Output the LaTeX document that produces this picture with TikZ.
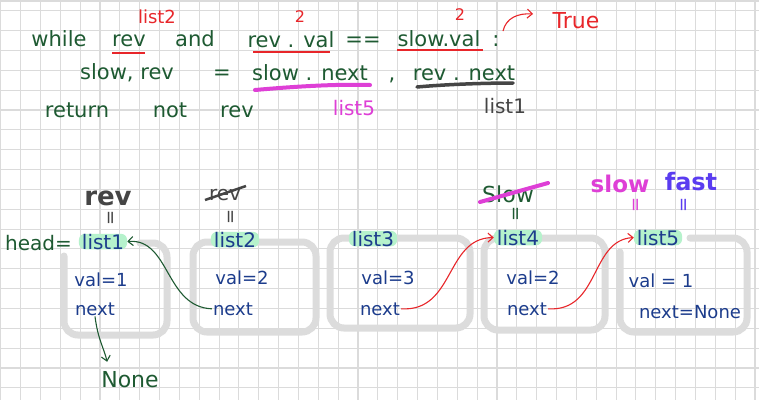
\documentclass[tikz,border=0pt]{standalone}
\usepackage{fontspec}
\setmainfont{DejaVu Sans}
\usepackage{tikz}
\usetikzlibrary{arrows.meta}
\definecolor{NoteGreen}{HTML}{1E5A32}
\definecolor{NoteBlue}{HTML}{1C3C8C}
\definecolor{NoteRed}{HTML}{E8262A}
\definecolor{NoteMagenta}{HTML}{DE3FD6}
\definecolor{NotePurple}{HTML}{5A3CF0}
\definecolor{NoteGray}{HTML}{454545}
\definecolor{NoteMint}{HTML}{B6F2CC}
\definecolor{NoteBox}{HTML}{DCDCDC}
\definecolor{NoteGrid}{HTML}{DBDBDB}
\newcommand{\hwfont}[1]{\fontsize{#1}{#1}\selectfont}

\begin{document}
\begin{tikzpicture}[x=1pt,y=-1pt,
  gridline/.style={draw=NoteGrid,line width=1.1pt},
  code/.style={text=NoteGreen,font=\hwfont{21},anchor=base,inner sep=1pt},
  note/.style={font=\hwfont{20},anchor=base,inner sep=1pt},
  field/.style={text=NoteBlue,font=\hwfont{18},anchor=base,inner sep=1pt},
  listlbl/.style={field,font=\hwfont{20},fill=NoteMint,rounded corners=6pt,inner xsep=3pt,inner ysep=0pt},
  eqv/.style={rotate=90,font=\hwfont{18},inner sep=0pt},
  nodebox/.style={draw=NoteBox,line width=7pt,rounded corners=14pt,line cap=round},
  hand/.style={-{Straight Barb[length=5pt,width=9pt]},line width=1.1pt}]
  \useasboundingbox (0,0) rectangle (759,400);
  \fill[white] (0,0) rectangle (759,400);
  \foreach \i in {0,...,38}
    \draw[gridline] ({0.7+19.85*\i},0) -- ({0.7+19.85*\i},400);
  \foreach \j in {0,...,19}
    \draw[gridline] (0,{10.7+19.85*\j}) -- (759,{10.7+19.85*\j});
  \draw[gridline,line width=2pt] (0,1) -- (759,1);

  \node[code] (while) at (59,46) {while};
  \node[code] (rev) at (129,46) {rev};
  \node[code] (and) at (195,46) {and};
  \node[code] (revval) at (291,47) {rev . val};
  \node[code] (eqeq) at (363,46) {==};
  \node[code] (slowval) at (439,46) {slow.val};
  \node[code] (colon) at (496,46) {:};
  \node[note,text=NoteRed,font=\hwfont{18}] (list2a) at (157,23) {list2};
  \node[note,text=NoteRed,font=\hwfont{16}] (two1) at (300,22) {2};
  \node[note,text=NoteRed,font=\hwfont{16}] (two2) at (460,20) {2};
  \node[note,text=NoteRed,font=\hwfont{22}] (true) at (576,28) {True};
  \draw[NoteRed,line width=1.6pt] (112,53) -- (145,53);
  \draw[NoteRed,line width=1.6pt] (253,52) -- (330,52);
  \draw[NoteRed,line width=1.6pt] (397,50) -- (483,50);
  \coordinate (curlA) at (503,31);
  \coordinate (curlB) at (533,14);
  \draw[hand,NoteRed] (curlA) .. controls (506,18) and (518,13) .. (curlB);

  \node[code] (slowrev) at (127,79) {slow, rev};
  \node[code] (assign) at (222,79) {=};
  \node[code] (slownext) at (310,80) {slow . next};
  \node[code] (comma) at (392,80) {,};
  \node[code] (revnext) at (464,80) {rev . next};
  \draw[NoteMagenta,line width=4pt,line cap=round] (255,90) .. controls (300,86) and (340,84) .. (370,85);
  \draw[NoteGray,line width=3.5pt,line cap=round] (417,87) .. controls (450,84) and (490,83) .. (513,83);

  \node[code] (return) at (77,117) {return};
  \node[code] (not) at (170,117) {not};
  \node[code] (rev3) at (237,117) {rev};
  \node[note,text=NoteMagenta] (list5a) at (354,115) {list5};
  \node[note,text=NoteGray] (list1a) at (505,113) {list1};

  \draw[nodebox] (140,243) -| (167,335) -| (64,256);
  \draw[nodebox] (193,242) rectangle (316,332);
  \draw[nodebox] (330,238) rectangle (470,328);
  \draw[nodebox] (484,238) rectangle (605,330);
  \draw[nodebox] (690,238) -| (747,332) -| (620,252);

  \node[code,font=\hwfont{20},anchor=base east] (head) at (73,250) {head=};
  \node[listlbl] (list1) at (103,249) {list1};
  \node[code,text=NoteGray,font=\hwfont{26}\bfseries] (revtop) at (108,205) {rev};
  \node[eqv,text=NoteGray] (eq1) at (112,218) {=};
  \node[field] (val1) at (101,286) {val=1};
  \node[field] (next1) at (95,315) {next};
  \node[code,font=\hwfont{22}] (none) at (130,387) {None};

  \node[code,text=NoteGray,font=\hwfont{20}] (revold) at (225,200) {rev};
  \draw[NoteGray,line width=2.5pt] (205,200) -- (246,186);
  \node[eqv,text=NoteGray] (eq2) at (232,217) {=};
  \node[listlbl] (list2) at (235,247) {list2};
  \node[field] (val2) at (242,284) {val=2};
  \node[field] (next2) at (233,315) {next};

  \node[listlbl] (list3) at (373,246) {list3};
  \node[field] (val3) at (388,284) {val=3};
  \node[field] (next3) at (380,315) {next};

  \node[code,font=\hwfont{22}] (slowold) at (508,202) {Slow};
  \draw[NoteMagenta,line width=4pt,line cap=round] (480,202) -- (548,183);
  \node[eqv,text=NoteGreen] (eq4) at (517,214) {=};
  \node[listlbl] (list4) at (518,245) {list4};
  \node[field] (val4) at (533,284) {val=2};
  \node[field] (next4) at (527,315) {next};

  \node[note,text=NoteMagenta,font=\hwfont{23}\bfseries] (slow) at (620,192) {slow};
  \node[note,text=NotePurple,font=\hwfont{24}\bfseries] (fast) at (691,190) {fast};
  \node[eqv,text=NoteMagenta] (eq5a) at (637,205) {=};
  \node[eqv,text=NotePurple] (eq5b) at (685,205) {=};
  \node[listlbl] (list5) at (658,245) {list5};
  \node[field] (val5) at (661,287) {val = 1};
  \node[field] (next5) at (690,318) {next=None};

  \draw[hand,NoteGreen] (next1.south) .. controls (98,340) and (104,348) .. ([xshift=7pt,yshift=8pt]none.north west);
  \draw[hand,NoteGreen] (next2.west) .. controls (165,307) and (170,238) .. (list1.east);
  \draw[hand,NoteRed] (next3.east) .. controls (455,312) and (445,238) .. (list4.west);
  \draw[hand,NoteRed] (next4.east) .. controls (600,312) and (590,240) .. (list5.west);
\end{tikzpicture}
\end{document}
